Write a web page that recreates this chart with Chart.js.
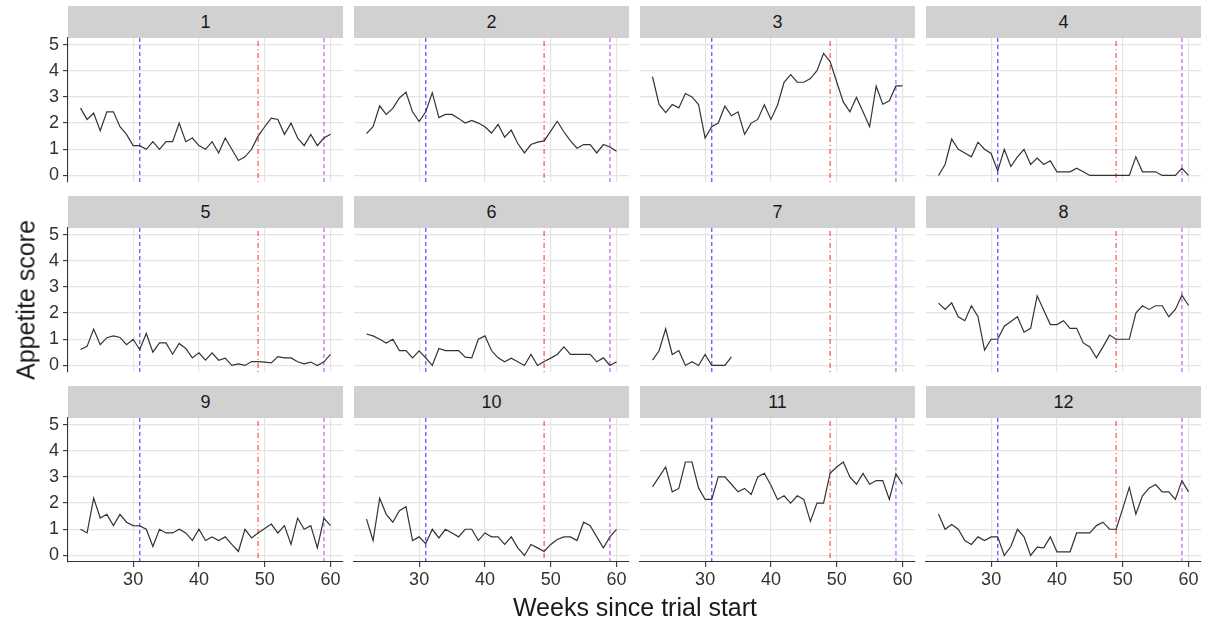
<!DOCTYPE html>
<html>
<head>
<meta charset="utf-8">
<script src="https://cdn.jsdelivr.net/npm/chart.js@4.4.0/dist/chart.umd.min.js"></script>
<style>
  body { margin: 0; background: #fff; font-family: "Liberation Sans", Arial, sans-serif; }
  #wrap { position: relative; width: 1208px; height: 625px; overflow: hidden; }
  .panel { position: absolute; }
  .strip { position: absolute; background: #d1d1d1; color: #1a1a1a; font-size: 18px;
           text-align: center; box-sizing: border-box; }
  .title { position: absolute; color: #1a1a1a; font-size: 25px; white-space: nowrap; }
</style>
</head>
<body>
<div id="wrap"></div>
<script>
// weeks since trial start (x categories)
const weeks = [22, 23, 24, 25, 26, 27, 28, 29, 30, 31, 32, 33, 34, 35, 36, 37, 38, 39, 40,
               41, 42, 43, 44, 45, 46, 47, 48, 49, 50, 51, 52, 53, 54, 55, 56, 57, 58, 59, 60];

const panelLabels = ["1", "2", "3", "4", "5", "6", "7", "8", "9", "10", "11", "12"];

// appetite score per panel, one value per week
const score1 = [2.57, 2.14, 2.38, 1.71, 2.43, 2.43, 1.86, 1.57, 1.14, 1.14, 1.0, 1.29, 1.0,
                1.29, 1.29, 2.0, 1.29, 1.43, 1.14, 1.0, 1.29, 0.86, 1.43, 1.0, 0.57, 0.71,
                1.0, 1.5, 1.86, 2.19, 2.14, 1.57, 2.0, 1.43, 1.14, 1.57, 1.14, 1.43, 1.57];
const score2 = [1.6, 1.86, 2.66, 2.33, 2.56, 2.96, 3.18, 2.43, 2.06, 2.43, 3.16, 2.21, 2.33,
                2.33, 2.18, 2.0, 2.1, 2.0, 1.86, 1.62, 1.95, 1.46, 1.73, 1.22, 0.86, 1.18,
                1.27, 1.32, 1.69, 2.07, 1.67, 1.32, 1.04, 1.18, 1.18, 0.86, 1.18, 1.09, 0.92];
const score3 = [3.77, 2.71, 2.4, 2.71, 2.58, 3.13, 3.0, 2.71, 1.43, 1.86, 2.0, 2.65, 2.28,
                2.43, 1.57, 2.0, 2.14, 2.7, 2.14, 2.68, 3.56, 3.85, 3.56, 3.56, 3.7, 4.0,
                4.66, 4.35, 3.57, 2.81, 2.43, 2.98, 2.43, 1.86, 3.41, 2.72, 2.85, 3.42, 3.42];
const score4 = [0.0, 0.42, 1.39, 1.0, 0.86, 0.71, 1.27, 1.0, 0.84, 0.17, 1.0, 0.34, 0.71,
                1.0, 0.42, 0.66, 0.42, 0.56, 0.14, 0.14, 0.14, 0.28, 0.14, 0.0, 0.0, 0.0,
                0.0, 0.0, 0.0, 0.0, 0.71, 0.14, 0.14, 0.14, 0.0, 0.0, 0.0, 0.27, 0.0];
const score5 = [0.61, 0.73, 1.39, 0.79, 1.06, 1.13, 1.07, 0.79, 1.0, 0.61, 1.22, 0.51, 0.86,
                0.86, 0.43, 0.84, 0.65, 0.29, 0.48, 0.2, 0.48, 0.2, 0.28, 0.0, 0.06, 0.0,
                0.15, 0.15, 0.13, 0.1, 0.34, 0.29, 0.29, 0.14, 0.06, 0.13, 0.0, 0.14, 0.42];
const score6 = [1.2, 1.13, 1.0, 0.86, 1.0, 0.57, 0.57, 0.29, 0.56, 0.29, 0.0, 0.65, 0.57,
                0.57, 0.57, 0.32, 0.29, 1.0, 1.13, 0.57, 0.29, 0.14, 0.28, 0.14, 0.0, 0.42,
                0.0, 0.15, 0.28, 0.42, 0.71, 0.42, 0.42, 0.42, 0.42, 0.14, 0.29, 0.0, 0.14];
const score7 = [0.2, 0.56, 1.4, 0.42, 0.57, 0.0, 0.14, 0.0, 0.42, 0.0, 0.0, 0.0, 0.33];
const score8 = [2.38, 2.14, 2.39, 1.86, 1.71, 2.28, 1.86, 0.59, 1.0, 1.0, 1.5, 1.68, 1.86,
                1.27, 1.42, 2.66, 2.11, 1.56, 1.56, 1.71, 1.42, 1.42, 0.86, 0.71, 0.29, 0.71,
                1.16, 1.0, 1.0, 1.0, 2.0, 2.28, 2.14, 2.28, 2.28, 1.86, 2.14, 2.68, 2.29];
const score9 = [1.0, 0.86, 2.19, 1.43, 1.57, 1.14, 1.57, 1.27, 1.14, 1.13, 1.0, 0.34, 1.0,
                0.86, 0.86, 1.0, 0.86, 0.57, 1.0, 0.57, 0.71, 0.57, 0.71, 0.42, 0.15, 1.0,
                0.67, 0.86, 1.03, 1.2, 0.86, 1.14, 0.42, 1.42, 1.0, 1.14, 0.29, 1.42, 1.14];
const score10 = [1.39, 0.57, 2.19, 1.57, 1.27, 1.71, 1.86, 0.57, 0.71, 0.45, 1.0, 0.67, 1.0,
                 0.86, 0.71, 1.0, 1.0, 0.57, 0.86, 0.71, 0.71, 0.42, 0.71, 0.29, 0.0, 0.42,
                 0.29, 0.15, 0.42, 0.61, 0.71, 0.71, 0.57, 1.27, 1.14, 0.71, 0.29, 0.71, 1.0];
const score11 = [2.62, 3.0, 3.38, 2.43, 2.56, 3.57, 3.57, 2.58, 2.14, 2.14, 3.0, 3.0, 2.72,
                 2.43, 2.56, 2.33, 3.0, 3.14, 2.68, 2.14, 2.28, 2.0, 2.28, 2.14, 1.3, 2.0,
                 2.0, 3.14, 3.38, 3.57, 3.0, 2.72, 3.13, 2.72, 2.86, 2.86, 2.14, 3.12, 2.72];
const score12 = [1.58, 1.0, 1.18, 1.0, 0.57, 0.42, 0.71, 0.57, 0.71, 0.71, 0.0, 0.34, 1.0,
                 0.71, 0.0, 0.32, 0.29, 0.71, 0.14, 0.14, 0.14, 0.86, 0.86, 0.86, 1.14, 1.27,
                 1.0, 1.0, 1.79, 2.6, 1.58, 2.28, 2.57, 2.71, 2.43, 2.43, 2.14, 2.86, 2.43];

const scores = [score1, score2, score3, score4, score5, score6,
                score7, score8, score9, score10, score11, score12];

// reference weeks drawn as vertical lines
const refWeeks = [31, 49, 59];
const refColors = ["rgba(0,0,255,0.6)", "rgba(255,0,0,0.6)", "rgba(160,32,240,0.6)"];
const refDashes = [[4, 3], [1, 3, 5, 3], [4, 3]];

const xTicks = [30, 40, 50, 60];
const yTicks = [0, 1, 2, 3, 4, 5];
const X_MIN = 20.1, X_MAX = 61.9, Y_MIN = -0.25, Y_MAX = 5.25;

// layout
const plotLefts = [68, 354, 640, 926];
const plotTops = [38, 228, 418];
const PLOT_W = 275, PLOT_H = 144, STRIP_H = 32;
// padding is kept larger than the tick label overhang so chart.js does not shrink the plot area
const PAD = 20, Y_AXIS_W = 50, X_AXIS_H = 34;

const wrap = document.getElementById("wrap");
const tickFont = { family: "Liberation Sans, Arial, sans-serif", size: 18 };

scores.forEach((vals, i) => {
  const r = Math.floor(i / 4), c = i % 4;
  const isLeft = c === 0, isBottom = r === 2;
  const axW = isLeft ? Y_AXIS_W : 0;
  const axH = isBottom ? X_AXIS_H : 0;

  // facet strip
  const strip = document.createElement("div");
  strip.className = "strip";
  strip.style.left = plotLefts[c] + "px";
  strip.style.top = (plotTops[r] - STRIP_H) + "px";
  strip.style.width = PLOT_W + "px";
  strip.style.height = STRIP_H + "px";
  strip.style.lineHeight = STRIP_H + "px";
  strip.textContent = panelLabels[i];
  wrap.appendChild(strip);

  const box = document.createElement("div");
  box.className = "panel";
  const cw = PAD + axW + PLOT_W + PAD;
  const ch = PAD + PLOT_H + axH + PAD;
  box.style.left = (plotLefts[c] - axW - PAD) + "px";
  box.style.top = (plotTops[r] - PAD) + "px";
  box.style.width = cw + "px";
  box.style.height = ch + "px";
  const cv = document.createElement("canvas");
  cv.width = cw;
  cv.height = ch;
  box.appendChild(cv);
  wrap.appendChild(box);

  const datasets = [{
    data: vals.map((v, k) => ({ x: weeks[k], y: v })),
    borderColor: "#333333",
    borderWidth: 1.2,
    pointRadius: 0,
    tension: 0
  }];
  refWeeks.forEach((w, j) => {
    datasets.push({
      data: [{ x: w, y: Y_MIN }, { x: w, y: Y_MAX }],
      borderColor: refColors[j],
      borderDash: refDashes[j],
      borderWidth: 1.4,
      pointRadius: 0
    });
  });

  new Chart(cv, {
    type: "line",
    data: { datasets },
    options: {
      responsive: false,
      animation: false,
      layout: { padding: PAD },
      plugins: { legend: { display: false }, tooltip: { enabled: false } },
      scales: {
        x: {
          type: "linear",
          min: X_MIN,
          max: X_MAX,
          afterBuildTicks: (s) => { s.ticks = xTicks.map((v) => ({ value: v })); },
          afterFit: (s) => { s.height = axH; },
          ticks: { display: isBottom, font: tickFont, color: "#333", padding: 2, maxRotation: 0 },
          grid: { color: "#e4e4e4", lineWidth: 1.2, drawTicks: isBottom, tickLength: 5,
                  tickColor: "#333", tickWidth: 1.1 },
          border: { display: isBottom, color: "#333", width: 1.1 }
        },
        y: {
          min: Y_MIN,
          max: Y_MAX,
          afterBuildTicks: (s) => { s.ticks = yTicks.map((v) => ({ value: v })); },
          afterFit: (s) => { s.width = axW; },
          ticks: { display: isLeft, font: tickFont, color: "#333", padding: 4 },
          grid: { color: "#e4e4e4", lineWidth: 1.2, drawTicks: isLeft, tickLength: 5,
                  tickColor: "#333", tickWidth: 1.1 },
          border: { display: isLeft, color: "#333", width: 1.1 }
        }
      }
    }
  });
});

// axis titles
const xTitle = document.createElement("div");
xTitle.className = "title";
xTitle.textContent = "Weeks since trial start";
xTitle.style.left = "635px";
xTitle.style.top = "607px";
xTitle.style.transform = "translate(-50%, -50%)";
wrap.appendChild(xTitle);

const yTitle = document.createElement("div");
yTitle.className = "title";
yTitle.textContent = "Appetite score";
yTitle.style.left = "26px";
yTitle.style.top = "300px";
yTitle.style.transform = "translate(-50%, -50%) rotate(-90deg)";
wrap.appendChild(yTitle);
</script>
</body>
</html>
